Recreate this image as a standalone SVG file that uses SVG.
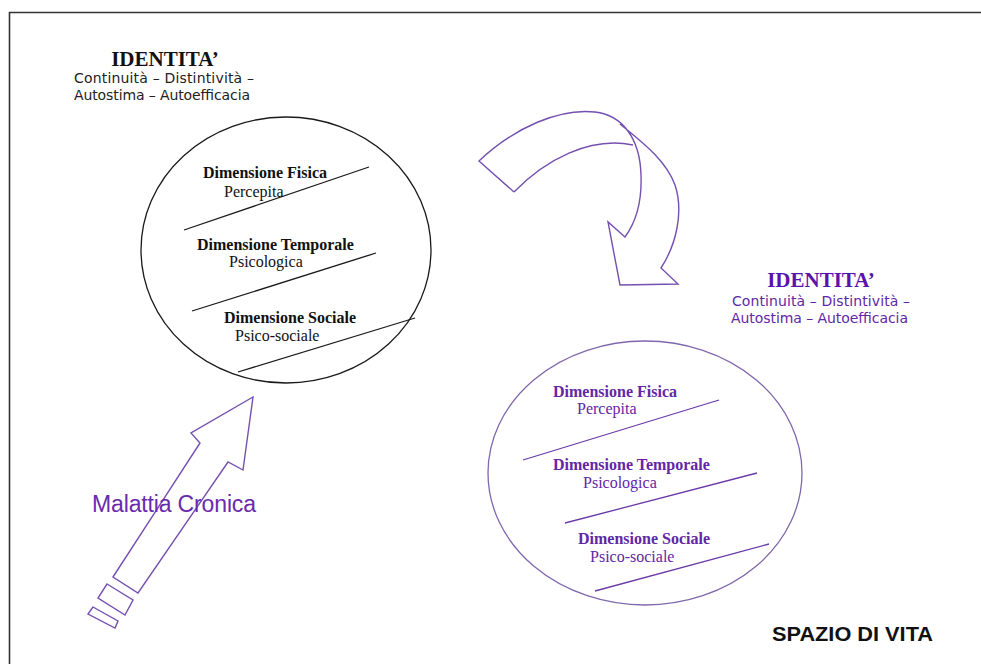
<svg xmlns="http://www.w3.org/2000/svg" width="981" height="664" viewBox="0 0 981 664">
<style>
.serifb{font-family:"Liberation Serif","Times New Roman",serif;font-weight:bold;font-size:16px}
.serif{font-family:"Liberation Serif","Times New Roman",serif;font-size:16px}
.title{font-family:"Liberation Serif","Times New Roman",serif;font-weight:bold;font-size:21px;text-anchor:middle}
.sub{font-family:"DejaVu Sans","Liberation Sans",sans-serif;font-size:14px}
.blk{fill:#111}
.pur{fill:#6326a6}
.ln-b{stroke:#1a1a1a;stroke-width:1.3;fill:none}
.ln-p{stroke:#6a3aa8;stroke-width:1.3;fill:none}
.arr{stroke:#7550b0;stroke-width:1.4;fill:none;stroke-linejoin:miter}
</style>
<rect width="981" height="664" fill="#fff"/>
<path d="M9.5,664 V12.5 H981" fill="none" stroke="#333" stroke-width="1.6"/>

<g id="identita-left">
<text class="title blk" x="165" y="66">IDENTITA’</text>
<text class="sub" fill="#222" x="74" y="83" textLength="180" lengthAdjust="spacing">Continuità – Distintività –</text>
<text class="sub" fill="#222" x="74" y="100" textLength="176" lengthAdjust="spacing">Autostima – Autoefficacia</text>
</g>

<g id="circle-left">
<ellipse cx="286" cy="250" rx="145" ry="133" class="ln-b"/>
<line x1="184" y1="230" x2="369" y2="167" class="ln-b"/>
<line x1="192" y1="311" x2="376" y2="253" class="ln-b"/>
<line x1="238" y1="372" x2="415" y2="318" class="ln-b"/>
<text class="serifb blk" x="203" y="178">Dimensione Fisica</text>
<text class="serif blk" x="224" y="197">Percepita</text>
<text class="serifb blk" x="197" y="250">Dimensione Temporale</text>
<text class="serif blk" x="229" y="267">Psicologica</text>
<text class="serifb blk" x="224" y="323">Dimensione Sociale</text>
<text class="serif blk" x="235" y="341">Psico-sociale</text>
</g>

<g id="identita-right">
<text class="title" fill="#5a12ae" x="821" y="287">IDENTITA’</text>
<text class="sub pur" x="732" y="306" textLength="178" lengthAdjust="spacing">Continuità – Distintività –</text>
<text class="sub pur" x="731" y="323" textLength="177" lengthAdjust="spacing">Autostima – Autoefficacia</text>
</g>

<g id="circle-right">
<ellipse cx="645" cy="473" rx="157" ry="132" fill="none" stroke="#8068ad" stroke-width="1.3"/>
<line x1="523" y1="460" x2="719" y2="400" class="ln-p"/>
<line x1="565" y1="523" x2="757" y2="473" class="ln-p"/>
<line x1="595" y1="591" x2="769" y2="544" class="ln-p"/>
<text class="serifb pur" x="553" y="397">Dimensione Fisica</text>
<text class="serif pur" x="577" y="414">Percepita</text>
<text class="serifb pur" x="553" y="470">Dimensione Temporale</text>
<text class="serif pur" x="583" y="488">Psicologica</text>
<text class="serifb pur" x="578" y="544">Dimensione Sociale</text>
<text class="serif pur" x="590" y="562">Psico-sociale</text>
</g>

<g id="connectors">
<g id="curved-arrow">
<path class="arr" d="M514,192 L479,161 C515,127 560,108 595,112 C622,115 640,138 641,175 C642,200 636,222 625,237 L608,222 L620,285 L678,284 L661,268 C676,245 684,212 675,185 C666,160 642,142 620,124"/>
<path class="arr" d="M514,192 C545,160 590,136 633,145"/>
</g>
<g id="malattia-arrow">
<path class="arr" d="M113,577 L200,443 L191,433 L253,397 L243,470 L228,462 L138,593 Z"/>
<path class="arr" d="M107,584 L133,600 L125,615 L98,598 Z"/>
<path class="arr" d="M93,607 L118,621 L115,628 L88,614 Z"/>
</g>
</g>

<g id="malattia-label">
<text x="92" y="512" font-family="Liberation Sans, Arial, sans-serif" font-size="23" fill="#6a2aae" textLength="164" lengthAdjust="spacing">Malattia Cronica</text>
</g>

<g id="spazio-label">
<text x="772" y="641" font-family="Liberation Sans, Arial, sans-serif" font-weight="bold" font-size="20" fill="#111" textLength="161" lengthAdjust="spacingAndGlyphs">SPAZIO DI VITA</text>
</g>
</svg>
